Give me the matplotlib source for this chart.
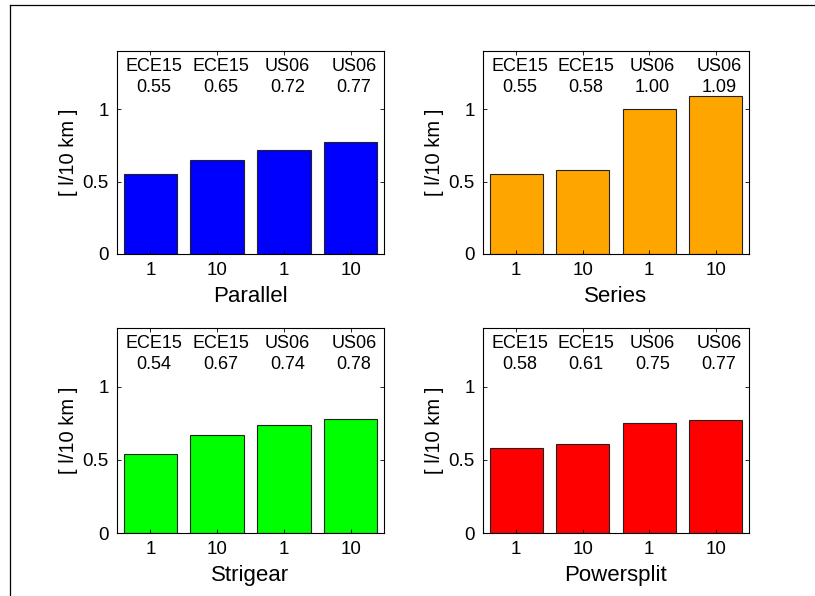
import numpy as np
import matplotlib
matplotlib.use("Agg")
import matplotlib.pyplot as plt
from matplotlib.lines import Line2D

plt.rcParams['font.family'] = ['Liberation Sans', 'DejaVu Sans']

# data
positions = [1, 2, 3, 4]
tick_labels = ['1', '10', '1', '10']
cycles = ['ECE15', 'ECE15', 'US06', 'US06']
configs = ['Parallel', 'Series', 'Strigear', 'Powersplit']
parallel = [0.55, 0.65, 0.72, 0.77]
series = [0.55, 0.58, 1.00, 1.09]
strigear = [0.54, 0.67, 0.74, 0.78]
powersplit = [0.58, 0.61, 0.75, 0.77]
bar_colors = ['#0000ff', '#ffa500', '#00ff00', '#ff0000']

values = [parallel, series, strigear, powersplit]

W, H = 815, 596
fig = plt.figure(figsize=(W / 100, H / 100), dpi=100)

# axes boxes in pixels: left, top, right, bottom
boxes = [(117, 51, 384, 254), (483, 51, 749, 254),
         (117, 328, 384, 533), (483, 328, 749, 533)]

for k in range(4):
    l, t, r, b = boxes[k]
    ax = fig.add_axes([l / W, 1 - b / H, (r - l) / W, (b - t) / H])
    vals = values[k]
    ax.bar(positions, vals, width=0.8, color=bar_colors[k],
           edgecolor='#222222', linewidth=0.8)
    for p, c, v in zip(positions, cycles, vals):
        ax.text(p + 0.05, 1.22, '%s\n%.2f' % (c, v), ha='center', va='center',
                fontsize=13, linespacing=1.3)
    ax.set_xlim(0.5, 4.5)
    ax.set_ylim(0, 1.4)
    ax.set_xticks(positions)
    ax.set_xticklabels(tick_labels)
    ax.set_yticks([0, 0.5, 1])
    ax.set_yticklabels(['0', '0.5', '1'])
    ax.tick_params(direction='in', length=3, width=0.6, top=True, right=True,
                   labelsize=13.5, pad=6)
    ax.set_xlabel(configs[k], fontsize=16, labelpad=5)
    ax.set_ylabel('[ l/10 km ]', fontsize=14.5, labelpad=3)
    for s in ax.spines.values():
        s.set_linewidth(0.8)

# outer frame (only top and left visible in the image)
fig.add_artist(Line2D([10 / W, 1], [1 - 5 / H, 1 - 5 / H], color='black', lw=0.9))
fig.add_artist(Line2D([10 / W, 10 / W], [0, 1 - 5 / H], color='black', lw=0.9))

fig.savefig('out.png', dpi=100)
